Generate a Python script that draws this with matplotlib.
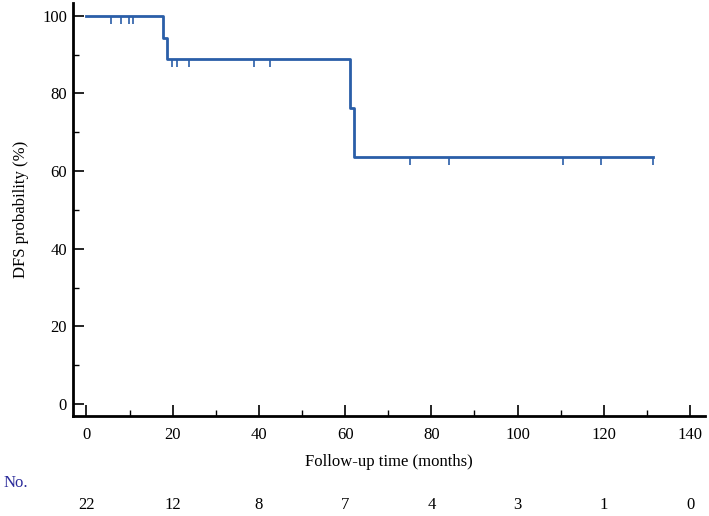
import matplotlib
matplotlib.use("Agg")
import matplotlib.pyplot as plt
from matplotlib.ticker import MultipleLocator
import matplotlib.transforms as mtransforms

plt.rcParams['font.family'] = ['Liberation Serif', 'DejaVu Serif']

# KM step data (months, DFS %)
step_t = [0, 17.7, 18.7, 61.1, 62.0, 131.5]
step_s = [100, 94.4, 88.9, 76.2, 63.5, 63.5]
# censored observations
cens_t = [5.8, 7.9, 9.8, 10.7, 19.8, 21.0, 23.8, 38.9, 42.6,
          75.0, 84.1, 110.5, 119.4, 131.5]
cens_s = [100, 100, 100, 100, 88.9, 88.9, 88.9, 88.9, 88.9,
          63.5, 63.5, 63.5, 63.5, 63.5]
# numbers at risk
risk_t = [0, 20, 40, 60, 80, 100, 120, 140]
risk_n = [22, 12, 8, 7, 4, 3, 1, 0]

line_col = '#2a5ea8'

fig = plt.figure(figsize=(7.09, 5.16), dpi=100)
ax = fig.add_axes([0.1025, 0.1938, 0.892, 0.8004])

ax.step(step_t, step_s, where='post', color=line_col, lw=2)
ax.plot(cens_t, cens_s, linestyle='none', marker=3, markersize=6,
        color=line_col, markeredgewidth=1.2)

ax.set_xlim(-3.2, 143.5)
ax.set_ylim(-3.1, 103.3)
ax.xaxis.set_major_locator(MultipleLocator(20))
ax.xaxis.set_minor_locator(MultipleLocator(10))
ax.yaxis.set_major_locator(MultipleLocator(20))
ax.yaxis.set_minor_locator(MultipleLocator(10))
ax.set_yticks([0, 20, 40, 60, 80, 100])

for s in ['top', 'right']:
    ax.spines[s].set_visible(False)
for s in ['left', 'bottom']:
    ax.spines[s].set_linewidth(2)

ax.tick_params(which='major', direction='in', length=8, width=1.2,
               labelsize=12, pad=4)
ax.tick_params(which='minor', direction='in', length=4, width=1.0)
ax.tick_params(axis='x', which='major', pad=8)

ax.set_xlabel('Follow-up time (months)', fontsize=12, va='center')
ax.xaxis.set_label_coords(0.5, -0.1114)
ax.set_ylabel('DFS probability (%)', fontsize=12)
ax.yaxis.set_label_coords(-0.069, 0.5)

trans = mtransforms.blended_transform_factory(ax.transData, fig.transFigure)
fig.text(15.5 / 709, 1 - 483 / 516, 'No.', color='#2b2b9a', fontsize=12,
         ha='center', va='center')
for t, n in zip(risk_t, risk_n):
    ax.text(t, 1 - 505 / 516, str(n), transform=trans, fontsize=12,
            ha='center', va='center', clip_on=False)

fig.savefig('out.png', dpi=100)
